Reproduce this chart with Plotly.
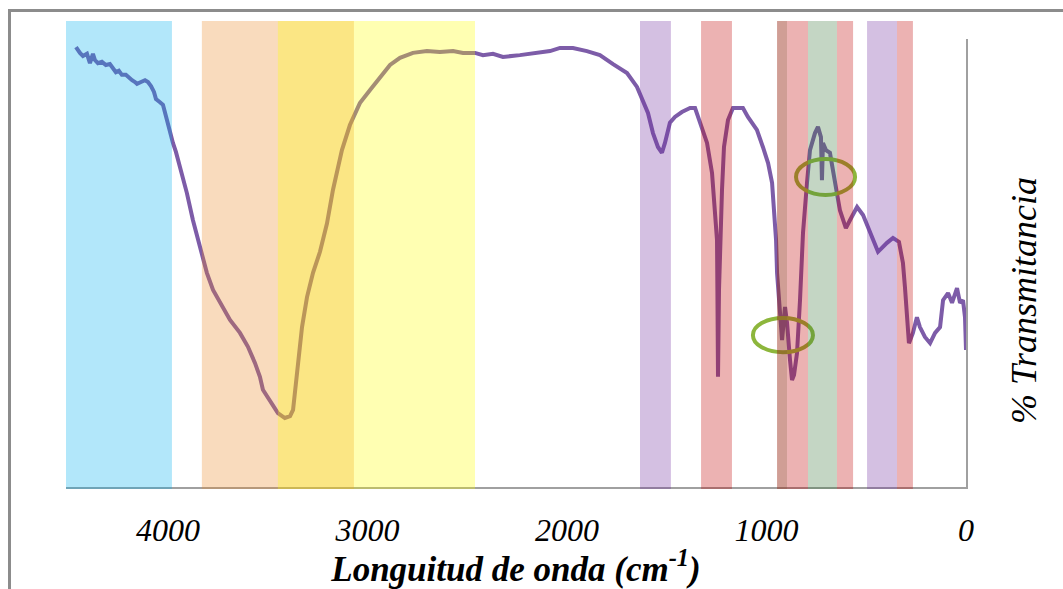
import plotly.graph_objects as go

# ---- data ----
wavenumber = [4461,4451,4441,4426,4406,4391,4376,4366,4351,4331,4311,4291,4276,4261,4246,4231,4211,4195,4180,4165,
              4155,4135,4115,4100,4085,4070,4060,4040,4025,4005,3990,3975,3960,3940,3920,3905,3875,3840,3805,3774,
              3724,3689,3639,3599,3564,3539,3524,3489,3449,3414,3388,3373,3363,3348,3328,3303,3273,3238,3203,3173,
              3128,3088,3038,2987,2937,2887,2837,2772,2702,2637,2571,2521,2461,2421,2371,2321,2236,2150,2085,2035,
              1970,1900,1835,1769,1699,1649,1619,1594,1569,1544,1524,1509,1484,1459,1424,1383,1358,1343,1323,1298,
              1273,1258,1248,1246,1243,1238,1233,1223,1213,1193,1168,1118,1093,1048,1018,992,972,962,952,947,
              932,922,907,897,882,872,862,847,832,817,797,782,757,742,727,722,717,702,682,667,
              647,632,602,581,546,516,481,441,396,366,336,316,306,296,286,266,246,231,206,180,
              155,130,115,90,70,45,30,15,5,0]
transmittance = [98.2,97.5,96.9,96.2,96.7,94.6,96.7,95.3,94.6,94.9,94.2,94.4,93.5,92.6,92.9,92.0,92.0,91.3,90.8,90.4,
                 90.0,90.4,90.8,90.4,89.5,88.2,86.6,85.9,85.3,81.9,79.2,76.8,74.8,71.4,68.5,65.6,59.6,53.6,47.8,44.0,
                 40.2,37.3,34.4,31.3,27.7,24.6,21.7,19.4,16.5,15.4,15.8,17.2,21.0,28.3,35.7,42.4,47.8,52.5,58.8,66.3,
                 75.2,80.8,85.7,88.6,91.5,94.2,95.8,96.9,97.3,97.1,97.3,96.9,96.9,96.4,96.7,96.0,96.4,96.9,97.3,98.0,
                 98.0,97.3,96.4,94.4,92.4,89.3,86.4,83.5,79.0,75.9,74.6,76.8,81.3,82.6,83.7,84.6,84.6,82.6,79.7,76.8,
                 70.1,62.5,55.1,44.0,24.6,44.0,55.1,66.3,75.9,81.9,84.6,84.6,82.6,79.7,75.9,72.3,67.9,62.5,55.1,47.8,
                 40.2,32.8,40.2,36.6,28.3,23.9,25.0,29.9,41.7,56.7,67.9,75.2,79.0,80.4,78.1,68.5,76.8,75.2,74.6,70.1,
                 65.6,61.8,57.8,59.6,62.5,60.7,56.7,52.5,54.5,55.6,54.7,50.0,44.6,37.9,32.1,34.4,37.9,35.7,33.5,32.1,
                 34.4,35.7,41.7,43.3,41.1,44.4,41.1,41.7,37.9,30.6]

tick_values = [4000, 3000, 2000, 1000, 0]
tick_labels = ["4000", "3000", "2000", "1000", "0"]

# highlighted bands: start, end (cm-1), colour
band_start = [4511, 3830, 3449, 1634, 1328, 947, 897, 792, 647, 496, 346]
band_end   = [3980, 3068, 2461, 1479, 1173, 897, 792, 647, 566, 346, 266]
band_color = ["#00B0F0", "rgb(235,135,35)", "#FFFF00", "#7030A0", "#C00000",
              "rgb(150,40,20)", "#C00000", "rgb(60,118,60)", "#C00000", "#7030A0", "#C00000"]
band_opacity = [0.3, 0.3, 0.3, 0.3, 0.3, 0.45, 0.3, 0.3, 0.3, 0.3, 0.3]

# circled regions: x0, x1 (cm-1), y0, y1 (% T)
circle_x0 = [852, 1068]
circle_x1 = [556, 767]
circle_y0 = [65.2, 30.1]
circle_y1 = [73.2, 37.7]

fig = go.Figure()
fig.add_trace(go.Scatter(x=wavenumber, y=transmittance, mode="lines",
                         line=dict(color="#7D5CA8", width=4), showlegend=False,
                         hoverinfo="skip"))

shapes = []
for a, b, c, d in zip(circle_x0, circle_x1, circle_y0, circle_y1):
    shapes.append(dict(type="circle", xref="x", yref="y", x0=a, x1=b, y0=c, y1=d,
                       line=dict(color="rgb(141,182,60)", width=4), layer="above"))
for s, e, c, o in zip(band_start, band_end, band_color, band_opacity):
    shapes.append(dict(type="rect", xref="x", yref="paper", x0=s, x1=e, y0=-0.0045, y1=1.040,
                       fillcolor=c, opacity=o, line=dict(width=0), layer="above"))
# outer frame
shapes.append(dict(type="rect", xref="paper", yref="paper", x0=(9.5 - 66) / 900, x1=1.13,
                   y0=-0.3, y1=(487 - 10.5) / 448, line=dict(color="#8C8C8C", width=3),
                   fillcolor="rgba(0,0,0,0)", layer="above"))

fig.update_layout(
    width=1063, height=589,
    margin=dict(l=66, r=97, t=39, b=102),
    paper_bgcolor="white", plot_bgcolor="white",
    shapes=shapes,
    xaxis=dict(range=[4511, 0], tickvals=tick_values, ticktext=tick_labels, automargin=False,
               showgrid=False, zeroline=False, showline=True, linecolor="#A0A0A0", linewidth=2,
               ticks="", ticklabelstandoff=14,
               tickfont=dict(family="Liberation Serif", size=32, style="italic", color="black"),
               title=dict(text="Longuitud de onda (cm<sup>-1</sup>)", standoff=8,
                          font=dict(family="Liberation Serif", size=35, style="italic",
                                    weight="bold", color="black"))),
    yaxis=dict(range=[0, 100], side="right", showgrid=False, zeroline=False, showline=True,
               automargin=False,
               linecolor="#A0A0A0", linewidth=2, showticklabels=False, ticks=""),
    annotations=[dict(text="% Transmitancia", xref="paper", yref="paper",
                      x=(1024 - 66) / 900, y=(487 - 301) / 448, showarrow=False, textangle=-90,
                      xanchor="center", yanchor="middle",
                      font=dict(family="Liberation Serif", size=36, style="italic", color="black"))],
)

fig.write_html("out.html")
